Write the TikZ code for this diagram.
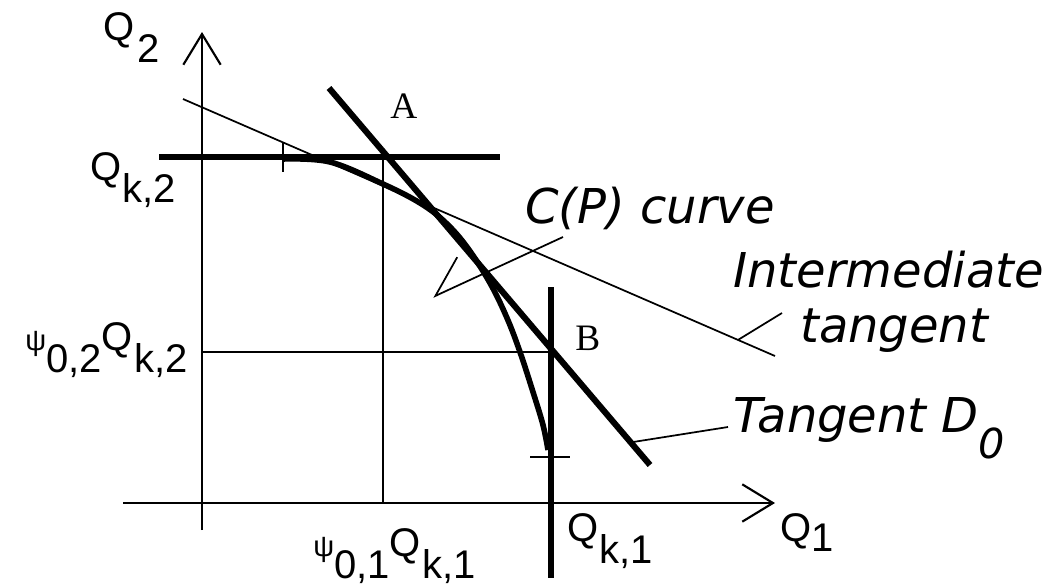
\documentclass[tikz,border=0pt]{standalone}
\usepackage{fontspec}
\usetikzlibrary{arrows.meta}
\newfontfamily\AxisFont{Liberation Sans}
\newfontfamily\PointFont{Liberation Serif}
\newfontfamily\NoteFont{DejaVu Sans}
\newcommand{\Lowered}[1]{\raisebox{-0.55em}{#1}}
\newcommand{\SmallPsi}{{\fontsize{22}{24}\selectfont ψ}}

\begin{document}
\begin{tikzpicture}[
	x=0.75pt,
	y=-0.75pt,
	heavy/.style={line width=4.6pt},
	guide/.style={line width=1.5pt},
	fine/.style={line width=1.3pt},
	axis/.style={line width=1.6pt,-{Straight Barb[length=23pt,width=28pt,line width=1.6pt]}},
	axislabel/.style={inner sep=0pt,anchor=base west,font=\AxisFont\fontsize{30}{32}\selectfont},
	pointlabel/.style={inner sep=0pt,anchor=base west,font=\PointFont\fontsize{28}{30}\selectfont},
	notelabel/.style={inner sep=0pt,anchor=base west,font=\NoteFont\itshape\fontsize{36}{40}\selectfont}
	]
	
	\path[use as bounding box,fill=white] (0,0) rectangle (1061,586);
	
	% ---------------------------------------------------------
	% POINTS
	% ---------------------------------------------------------
	
	\coordinate (origin) at (202,503);
	\coordinate (ytop) at (202,32);
	\coordinate (ybottom) at (202,530);
	\coordinate (xleft) at (123,503);
	\coordinate (xright) at (775,503);
	\coordinate (A) at (387,157);
	\coordinate (B) at (551,352);
	\coordinate (Afoot) at (383,503);
	\coordinate (Bfoot) at (202,352);
	
	% ---------------------------------------------------------
	% AXES
	% ---------------------------------------------------------
	
	\draw[axis] (ybottom) -- (ytop);
	\draw[axis] (xleft) -- (xright);
	
	% ---------------------------------------------------------
	% GUIDE LINES
	% ---------------------------------------------------------
	
	\draw[guide] (383,157) -- (Afoot);
	\draw[guide] (Bfoot) -- (B);
	\draw[heavy,line width=4.2pt] (159,157) -- (500,157);
	\draw[heavy,line width=5pt] (551,287) -- (551,578);
	\draw[fine] (283,142) -- (283,172);
	\draw[fine] (530,457) -- (570,457);
	
	% ---------------------------------------------------------
	% TANGENTS
	% ---------------------------------------------------------
	
	\draw[fine]
	(183,99) -- coordinate[pos=0.9375] (intermark) (775,356);
	
	\draw[heavy]
	(329,88) -- coordinate[pos=0.94] (dzeromark) (650,465);
	
	% ---------------------------------------------------------
	% C(P) CURVE
	% ---------------------------------------------------------
	
	\draw[heavy,line width=4.2pt,line join=round]
	plot[smooth,tension=0.6] coordinates {
		(283,159) (330,162) (383,184) (420,203) (445,222) (467,247)
		(490,283) (507,318) (520,352) (533,392) (543,425) (548,450)};
	
	% ---------------------------------------------------------
	% LABELS
	% ---------------------------------------------------------
	
	\node[axislabel] (q2label) at (103,40) {Q\Lowered{\kern2pt 2}};
	\node[axislabel] (qk2label) at (90,180) {Q\Lowered{\kern1pt k,2}};
	\node[axislabel] (psi2label) at (25,350)
	{\SmallPsi\Lowered{0,2}Q\Lowered{\kern1pt k,2}};
	\node[axislabel] (psi1label) at (313,556)
	{\SmallPsi\Lowered{0,1}Q\Lowered{\kern1pt k,1}};
	\node[axislabel] (qk1label) at (567,541) {Q\Lowered{\kern1pt k,1}};
	\node[axislabel] (q1label) at (780,541) {Q\raisebox{-0.25em}{1}};
	
	\node[pointlabel] (labelA) at (390,118) {A};
	\node[pointlabel] (labelB) at (575,350) {B};
	
	\node[notelabel] (cplabel) at (525,223) {C(P) curve};
	\node[notelabel] (interlabel) at (733,287) {Intermediate};
	\node[notelabel] (tanlabel) at (800,342) {tangent};
	\node[notelabel] (dzerolabel) at (733,432)
	{Tangent D\raisebox{-0.55em}{\fontsize{31}{34}\selectfont 0}};
	
	% ---------------------------------------------------------
	% POINTERS
	% ---------------------------------------------------------
	
	\coordinate (cppin) at (563,237);
	\coordinate (cptip) at (433,297);
	\coordinate (tanpin) at (782,313);
	\coordinate (dzeropin) at (728,427);
	
	\draw[fine,-{Straight Barb[harpoon,swap,length=27pt,width=39pt,line width=1.3pt]}]
	(cppin) -- (cptip);
	
	\draw[fine]
	(tanpin) -- (intermark);
	
	\draw[fine]
	(dzeropin) -- (dzeromark);
	
\end{tikzpicture}
\end{document}
